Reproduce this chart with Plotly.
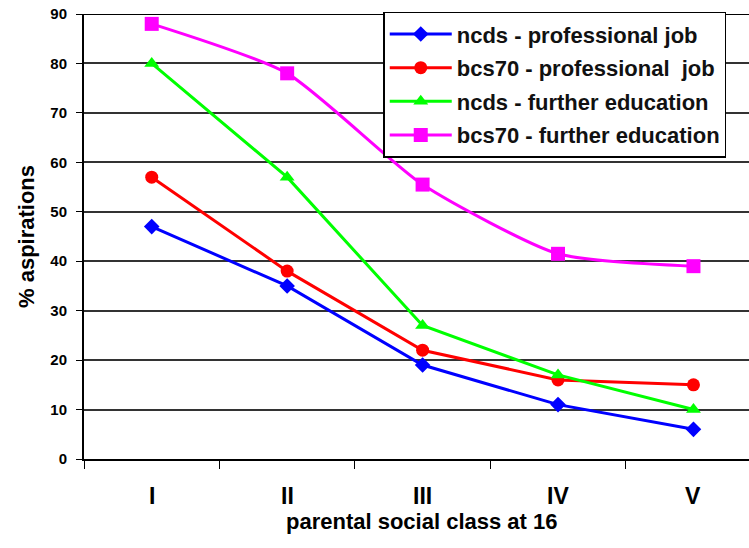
import plotly.graph_objects as go

categories = ["I", "II", "III", "IV", "V"]
ncds_prof = [47, 35, 19, 11, 6]
bcs70_prof = [57, 38, 22, 16, 15]
ncds_fe = [80, 57, 27, 17, 10]
bcs70_fe = [88, 78, 55.5, 41.5, 39]
y_ticks = [0, 10, 20, 30, 40, 50, 60, 70, 80, 90]

FONT = "Liberation Sans, Arial, sans-serif"

fig = go.Figure()
series = [
    ("ncds - professional job", ncds_prof, "#0000FF", "diamond", 12, "linear"),
    ("bcs70 - professional  job", bcs70_prof, "#FF0000", "circle", 13, "linear"),
    ("ncds - further education", ncds_fe, "#00FF00", "triangle-up", 13, "linear"),
    ("bcs70 - further education", bcs70_fe, "#FF00FF", "square", 14, "spline"),
]
for i, (name, vals, col, sym, sz, shape) in enumerate(series):
    fig.add_trace(go.Scatter(
        x=categories, y=vals, name=name, mode="lines+markers",
        line=dict(color=col, width=3, shape=shape, smoothing=0.6),
        marker=dict(symbol=sym, size=sz, color=col),
        legendgroup=f"g{i}",
    ))

fig.update_layout(
    width=749, height=548,
    margin=dict(l=84, r=0, t=14, b=89, autoexpand=False),
    plot_bgcolor="white", paper_bgcolor="white",
    font=dict(family=FONT, color="black"),
    showlegend=True,
    legend=dict(
        x=0.45, y=1.005, xanchor="left", yanchor="top",
        bgcolor="white", bordercolor="black", borderwidth=1.5,
        font=dict(family=FONT, size=22, color="#111111", weight="bold"),
        tracegroupgap=2, itemwidth=62,
        entrywidth=380, entrywidthmode="pixels",
    ),
    xaxis=dict(
        type="category", range=[-0.5, 4.41], automargin=False,
        showline=True, linecolor="black", linewidth=2,
        ticks="outside", ticklen=8, tickcolor="black",
        tickmode="array", tickvals=[-0.5, 0.5, 1.5, 2.5, 3.5],
        ticktext=["", "", "", "", ""],
        showgrid=False, zeroline=False,
    ),
    yaxis=dict(
        range=[0, 90], tickvals=y_ticks, automargin=False,
        showline=True, linecolor="black", linewidth=2,
        ticks="outside", ticklen=6, tickcolor="black",
        ticklabelstandoff=6,
        showgrid=True, gridcolor="#333333", gridwidth=1.5,
        tickfont=dict(family=FONT, size=15, weight="bold"),
        title=dict(text="% aspirations", font=dict(family=FONT, size=22, weight="bold"), standoff=10),
        zeroline=False,
    ),
    shapes=[dict(type="line", xref="paper", yref="y", x0=0, x1=1, y0=90, y1=90,
                 line=dict(color="black", width=2), layer="below")],
)

# category labels at category positions (data coords)
for c in categories:
    fig.add_annotation(x=c, y=0, xref="x", yref="y", yshift=-37, yanchor="middle", text=c,
                       showarrow=False,
                       font=dict(family="Liberation Sans Narrow, Liberation Sans, Arial", size=23, weight="bold"))
fig.add_annotation(x=0.5, y=0, xref="paper", yref="paper", yshift=-62, yanchor="middle", xshift=5,
                   text="parental social class at 16", showarrow=False,
                   font=dict(family=FONT, size=22, weight="bold"))

fig.write_html("out.html", config={"displayModeBar": False},
               post_script="document.body.style.margin='0';")
